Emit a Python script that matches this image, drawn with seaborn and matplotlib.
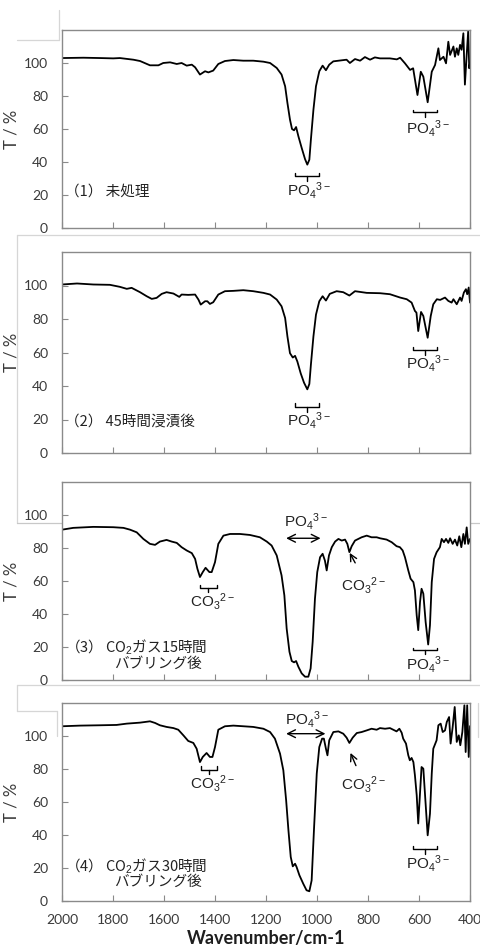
import numpy as np
import pandas as pd
import matplotlib
matplotlib.use("Agg")
import matplotlib.pyplot as plt
from matplotlib.lines import Line2D
import seaborn as sns

# ---- FT-IR spectra (wavenumber in cm-1, transmittance in %) ----
wn_1 = [2000, 1916, 1851, 1799, 1773, 1720, 1694, 1655, 1622, 1603, 1576, 1550, 1531,
        1511, 1491, 1478, 1459, 1439, 1426, 1407, 1387, 1361, 1328, 1289, 1250, 1210,
        1184, 1158, 1139, 1125, 1116, 1106, 1098, 1090, 1082, 1073, 1060, 1047, 1038,
        1030, 1024, 1014, 1004, 991, 978, 965, 952, 936, 884, 871, 851, 831, 812, 792,
        773, 753, 714, 687, 674, 655, 635, 623, 606, 593, 583, 566, 550, 537, 524, 518,
        504, 494, 485, 478, 465, 459, 452, 446, 439, 433, 426, 420, 413, 407, 403, 400]
t_1 = [103, 103.2, 103, 102.8, 103, 102, 101.2, 98.6, 98.6, 100, 100.4, 99.4, 100,
       98.4, 99, 97.4, 93, 95, 94.3, 95.4, 99.4, 101.2, 101.8, 101.4, 101.4, 100.8,
       100, 97, 93, 85.9, 75.8, 65.7, 60, 59.2, 61.2, 55.6, 48.5, 41.8, 38.4,
       41.4, 53.5, 71.7, 85.9, 95, 98.4, 95.6, 99, 101, 102, 100, 102.4, 101.4, 103.6, 102,
       103.4, 102.8, 102.8, 102.2, 103.2, 99.8, 95.8, 96.8, 80.6, 94.7, 91.7, 76.2, 94.7, 98.8, 108.9, 101.8,
       103.8, 99.8, 112.9, 104.9, 110, 103.8, 108.9, 104.9, 111, 108, 118, 86.9, 104.9, 119.5, 96.8, 100]

wn_2 = [2000, 1941, 1877, 1812, 1773, 1746, 1727, 1694, 1668, 1648, 1629, 1609, 1590,
        1563, 1540, 1531, 1505, 1478, 1465, 1456, 1439, 1430, 1420, 1407, 1387, 1361,
        1328, 1289, 1250, 1210, 1184, 1158, 1139, 1125, 1116, 1106, 1095, 1086, 1077,
        1064, 1051, 1038, 1030, 1024, 1014, 1004, 991, 978, 965, 950, 923, 897, 873,
        851, 805, 753, 714, 674, 648, 629, 616, 610, 603, 592, 583, 566, 554, 544, 530,
        517, 498, 485, 472, 465, 452, 439, 433, 424, 416, 411, 405, 400]
t_2 = [100.6, 101.2, 100.6, 100.4, 99.2, 98, 98.6, 96, 93.6, 92, 92.6, 95, 96,
       95.2, 93.2, 94.6, 94.4, 94.6, 91.6, 88.6, 90.6, 90.6, 89, 90, 94.6, 96.6,
       96.8, 97.2, 96.6, 95.6, 94.6, 91.6, 87.6, 80.6, 69.6, 59.6, 57, 58, 54.6,
       47.6, 42, 38, 41.2, 52.6, 69.6, 82.6, 90.6, 93.6, 91, 95, 96.6, 96, 94,
       96.6, 95.6, 95.4, 94.8, 92.8, 91.8, 89.8, 84.8, 83.8, 72.8, 84.2, 81.8, 68.8, 81.8, 88.8, 91.8,
       91.4, 92.8, 90.8, 89.8, 91.8, 88.8, 92.8, 90.8, 95.8, 97.8, 94.8, 98.8, 89.8]

wn_3 = [2000, 1956, 1877, 1799, 1759, 1733, 1707, 1681, 1655, 1635, 1616, 1590, 1570,
        1550, 1531, 1511, 1491, 1478, 1469, 1459, 1448, 1437, 1422, 1413, 1400, 1387,
        1367, 1341, 1302, 1263, 1224, 1197, 1178, 1158, 1139, 1128, 1119, 1108, 1099,
        1090, 1082, 1073, 1060, 1047, 1034, 1025, 1017, 1008, 999, 988, 978, 969, 962,
        953, 942, 929, 916, 903, 890, 881, 873, 864, 851, 825, 805, 786, 766, 753, 727,
        707, 688, 675, 664, 655, 642, 633, 622, 616, 609, 603, 596, 590, 583, 574, 564,
        557, 550, 541, 531, 518, 511, 502, 494, 485, 478, 468, 459, 450, 442, 434, 426,
        420, 413, 407, 400]
t_3 = [91.1, 92.2, 92.8, 92.6, 92.2, 91.1, 89.5, 85.5, 82.5, 81.9, 83.9, 84.9, 83.9,
       83.1, 80.5, 78.5, 76.9, 73.4, 67.4, 62.4, 65.4, 68, 65.4, 65.4, 71.4, 82.5,
       87.5, 88.5, 88.5, 87.9, 86.5, 83.9, 81.5, 75.5, 63.4, 51.3, 31.2, 17.1, 11.5,
       10.7, 11.5, 8, 4, 2, 2, 7, 23.1, 49.3, 65.4, 74.4, 76.5, 72.4, 66.4,
       75.5, 80.5, 83.9, 85.5, 84.5, 85.1, 82.5, 77.5, 81.1, 84.5, 86.5, 87.5, 86.5, 86.5, 85.9, 85.1,
       83.5, 81.1, 80.5, 78.5, 74.4, 66.4, 61.4, 59.3, 54.3, 39.2, 30.2, 47.3, 55.3, 52.3, 35.2, 21.5,
       33.2, 59.3, 73.4, 77.4, 80.5, 85.5, 83.5, 85.5, 83.1, 85.9, 82.5, 85.1, 81.5, 87.1, 80.5, 88.5,
       82.5, 92.5, 82.5, 85.5]

wn_4 = [2000, 1929, 1851, 1786, 1746, 1694, 1655, 1635, 1616, 1590, 1563, 1544, 1524,
        1505, 1485, 1472, 1459, 1448, 1433, 1420, 1410, 1400, 1387, 1361, 1328, 1289,
        1250, 1210, 1184, 1165, 1145, 1132, 1121, 1112, 1103, 1095, 1086, 1080, 1069,
        1054, 1041, 1030, 1021, 1012, 1001, 991, 980, 973, 965, 959, 952, 936, 916,
        897, 884, 873, 860, 844, 825, 805, 786, 766, 753, 733, 714, 701, 688, 677, 668,
        662, 651, 642, 636, 629, 622, 616, 609, 603, 590, 583, 566, 557, 550, 544, 531,
        524, 515, 507, 498, 491, 482, 476, 468, 460, 452, 444, 438, 430, 422, 417, 411,
        405, 400]
t_4 = [105.9, 106.3, 106.5, 106.7, 107.5, 108.1, 108.9, 107.9, 106.5, 105.5, 104.8, 103.8, 100.4,
       97, 95.8, 92.3, 84.2, 87.3, 89.7, 87.3, 87.3, 93.3, 103.8, 105.9, 106.3, 105.9,
       105.5, 104.4, 102.4, 98.4, 89.3, 79.2, 61, 42.8, 26.7, 21, 22.6, 20.6, 15.6,
       10.5, 6.5, 5.9, 12.5, 42.8, 77.2, 93.3, 98.4, 98.4, 92.3, 88.3, 97.4, 102.4, 102.8,
       101.4, 99, 95.8, 99, 101.8, 102.4, 103.4, 104.4, 103.8, 104.8, 104.4, 104.8, 103.8, 102.8, 104.4, 102,
       98.4, 95.4, 88.3, 85.3, 86.7, 84.2, 76.2, 64.1, 47, 81.2, 80.2, 39.8, 52.9, 77.2, 92.3, 97.4,
       106.5, 107.5, 102.4, 103.4, 108.5, 111.5, 95.4, 105.4, 117.6, 96.4, 100.4, 94.4, 102.4, 118.6, 90.3, 118.6,
       87.3, 106]

spectra = [(wn_1, t_1), (wn_2, t_2), (wn_3, t_3), (wn_4, t_4)]

y_ticks = [0, 20, 40, 60, 80, 100]
x_ticks = [2000, 1800, 1600, 1400, 1200, 1000, 800, 600, 400]
x_tick_labels = [str(v) for v in x_ticks]

sample_labels = [
    ["（1） 未処理"],
    ["（2） 45時間浸漬後"],
    ["（3） CO$_2$ガス15時間", "バブリング後"],
    ["（4） CO$_2$ガス30時間", "バブリング後"],
]

PO4 = "PO$_4$$^{3-}$"
CO3 = "CO$_3$$^{2-}$"

# ---- style ----
sns.set_theme(style="white")
plt.rcParams["font.family"] = ["Lato", "DejaVu Sans"]
plt.rcParams["mathtext.fontset"] = "custom"
plt.rcParams["mathtext.rm"] = "Liberation Sans"
plt.rcParams["mathtext.it"] = "Liberation Sans"
plt.rcParams["mathtext.bf"] = "Liberation Sans:bold"

W, H = 481, 950
fig = plt.figure(figsize=(W / 100, H / 100), dpi=100)
fig.patch.set_facecolor("white")

SPINE = "#8a8a8a"
TXT = "#3a3a3a"
JP = ["Noto Sans CJK JP", "DejaVu Sans"]
LAB = ["Liberation Sans", "DejaVu Sans"]

# panel frames in pixels: (top, bottom)
frames = [(30, 228), (252, 453), (482, 680), (703, 901)]
LEFT, RIGHT = 62, 470


def px_line(x0, y0, x1, y1, color="#d6d6d6", lw=0.9):
    fig.add_artist(Line2D([x0 / W, x1 / W], [1 - y0 / H, 1 - y1 / H],
                          transform=fig.transFigure, color=color, lw=lw, zorder=0))


def brace(ax, x1, x2, y_top, y_mid, y_bot):
    ax.plot([x1, x1, x2, x2], [y_top, y_mid, y_mid, y_top], color="black", lw=1.0)
    xc = (x1 + x2) / 2
    ax.plot([xc, xc], [y_mid, y_bot], color="black", lw=1.0)


axes = []
for i, ((top, bot), (wn, tr)) in enumerate(zip(frames, spectra)):
    ax = fig.add_axes([LEFT / W, 1 - bot / H, (RIGHT - LEFT) / W, (bot - top) / H])
    df = pd.DataFrame({"wavenumber": wn, "T": tr})
    sns.lineplot(data=df, x="wavenumber", y="T", ax=ax, color="black", lw=1.3,
                 estimator=None, sort=False)
    ax.set_xlim(2000, 400)
    ax.set_ylim(0, 120)
    ax.set_yticks(y_ticks)
    ax.set_xticks(x_ticks)
    if i == 3:
        ax.set_xticklabels(x_tick_labels)
        ax.set_xlabel("Wavenumber/cm-1", fontsize=13, fontweight="bold",
                      color="#1e1e1e", labelpad=3)
    else:
        ax.set_xticklabels([])
        ax.set_xlabel("")
    ax.set_ylabel("T / %", fontsize=12, color=TXT, labelpad=3)
    ax.tick_params(axis="both", direction="in", length=4, width=0.8, color=SPINE,
                   labelsize=10, labelcolor=TXT, bottom=True, left=True)
    ax.tick_params(axis="y", pad=10)
    ax.tick_params(axis="x", pad=9)
    for s in ax.spines.values():
        s.set_color(SPINE)
        s.set_linewidth(1.0)
    ax.set_facecolor("white")
    ax.grid(False)
    axes.append(ax)

ax1, ax2, ax3, ax4 = axes
lab_kw = dict(fontsize=11, color="#222222", ha="center", va="center", family=LAB)

# panel 1
brace(ax1, 1086, 992, 33.3, 31.3, 28.3)
ax1.text(1030, 23, PO4, **lab_kw)
brace(ax1, 622, 531, 71.7, 70.1, 67.3)
ax1.text(563, 60.6, PO4, **lab_kw)

# panel 2
brace(ax2, 1086, 992, 29.8, 27.6, 24.6)
ax2.text(1030, 19.6, PO4, **lab_kw)
brace(ax2, 622, 531, 63.2, 61.2, 58.6)
ax2.text(563, 53.6, PO4, **lab_kw)

# panel 3
ax3.annotate("", xy=(1132, 85.9), xytext=(975, 85.9),
             arrowprops=dict(arrowstyle="<->", color="black", lw=1.0, mutation_scale=14))
ax3.text(1045, 96, PO4, **lab_kw)
ax3.annotate("", xy=(877, 78.5), xytext=(845, 69.5),
             arrowprops=dict(arrowstyle="->", color="black", lw=1.0, mutation_scale=12))
ax3.text(818, 57, CO3, **lab_kw)
brace(ax3, 1459, 1393, 57.7, 55.7, 53.3)
ax3.text(1412, 47.5, CO3, **lab_kw)
brace(ax3, 622, 531, 19.5, 17.9, 15.5)
ax3.text(563, 9.5, PO4, **lab_kw)

# panel 4
ax4.annotate("", xy=(1132, 101.4), xytext=(956, 101.4),
             arrowprops=dict(arrowstyle="<->", color="black", lw=1.0, mutation_scale=14))
ax4.text(1040, 110, PO4, **lab_kw)
ax4.annotate("", xy=(873, 91.3), xytext=(843, 80.5),
             arrowprops=dict(arrowstyle="->", color="black", lw=1.0, mutation_scale=12))
ax4.text(818, 70.5, CO3, **lab_kw)
brace(ax4, 1456, 1393, 81.6, 79.6, 77.2)
ax4.text(1412, 71.5, CO3, **lab_kw)
brace(ax4, 622, 531, 33.3, 31.5, 28.7)
ax4.text(563, 23, PO4, **lab_kw)

# sample descriptions
desc_pos = [[(1988, 22.2)], [(1988, 18.6)], [(1988, 20.1), (1796, 9.5)],
            [(1988, 20.8), (1796, 11.6)]]
for ax, lines, pos in zip(axes, sample_labels, desc_pos):
    for txt, (x, y) in zip(lines, pos):
        ax.text(x, y, txt, fontsize=10.5, family=JP, color="#222222", ha="left", va="center")

# thin grey frame edges of the assembled figure
px_line(59, 10, 59, 40)
px_line(17, 40, 59, 40)
px_line(17, 235, 481, 235)
px_line(17, 235, 17, 523)
px_line(17, 523, 481, 523, color="#c8c8c8")
px_line(17, 685, 481, 685)
px_line(17, 685, 17, 711)
px_line(17, 711, 57, 711)
px_line(57, 711, 57, 736)
px_line(478, 703, 478, 737)

fig.savefig("out.png", dpi=100, facecolor="white")
